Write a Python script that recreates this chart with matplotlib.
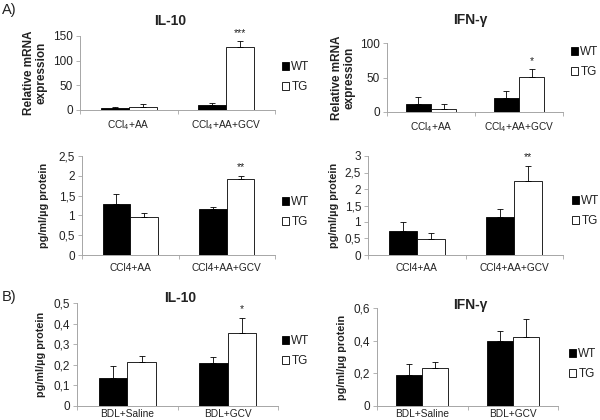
import matplotlib
matplotlib.use("Agg")
import matplotlib.pyplot as plt
from matplotlib.patches import Patch

plt.rcParams['font.family'] = ['Liberation Sans', 'DejaVu Sans']
plt.rcParams['mathtext.fontset'] = 'custom'
plt.rcParams['mathtext.rm'] = 'Liberation Sans'
plt.rcParams['mathtext.it'] = 'Liberation Sans'

groups = ["WT", "TG"]

# A) mRNA
cat_a_mrna = ["CCl$_4$+AA", "CCl$_4$+AA+GCV"]
il10_mrna_wt = [4, 11]
il10_mrna_wt_err = [2, 3]
il10_mrna_tg = [6, 128]
il10_mrna_tg_err = [6, 12]
il10_mrna_sig = ["", "***"]

ifng_mrna_wt = [11, 21]
ifng_mrna_wt_err = [11, 10]
ifng_mrna_tg = [5, 51]
ifng_mrna_tg_err = [7, 12]
ifng_mrna_sig = ["", "*"]

# A) protein
cat_a_prot = ["CCl4+AA", "CCl4+AA+GCV"]
il10_prot_wt = [1.28, 1.15]
il10_prot_wt_err = [0.26, 0.06]
il10_prot_tg = [0.96, 1.93]
il10_prot_tg_err = [0.10, 0.06]
il10_prot_sig = ["", "**"]

ifng_prot_wt = [0.72, 1.15]
ifng_prot_wt_err = [0.28, 0.25]
ifng_prot_tg = [0.49, 2.23]
ifng_prot_tg_err = [0.17, 0.48]
ifng_prot_sig = ["", "**"]

# B) protein
cat_b = ["BDL+Saline", "BDL+GCV"]
il10_b_wt = [0.135, 0.21]
il10_b_wt_err = [0.06, 0.028]
il10_b_tg = [0.212, 0.355]
il10_b_tg_err = [0.03, 0.07]
il10_b_sig = ["", "*"]

ifng_b_wt = [0.19, 0.395]
ifng_b_wt_err = [0.065, 0.065]
ifng_b_tg = [0.23, 0.42]
ifng_b_tg_err = [0.04, 0.11]
ifng_b_sig = ["", ""]

W, H = 600, 420
fig = plt.figure(figsize=(W / 100, H / 100), dpi=100)

def rect(l, r, t, b):
    return [l / W, 1 - b / H, (r - l) / W, (b - t) / H]

def fx(x):
    return x / W

def fy(y):
    return 1 - y / H

GRAY = '#a6a6a6'
TXT = '#222222'

def fmt(v):
    return f"{v:g}".replace('.', ',')

def panel(box, cats, wt, wte, tg, tge, sig, ymax, ystep, title=None, title_xy=None,
          ylabel=None, ylabel_x=None, ylabel_size=7.8, leg=None, catsize=7.3, catpad=6):
    ax = fig.add_axes(rect(*box))
    n = len(cats)
    bw = 1 / 3.5
    centers = [i + 0.5 for i in range(n)]
    xw = [c - bw / 2 for c in centers]
    xt = [c + bw / 2 for c in centers]
    ax.bar(xw, wt, width=bw, color='black', edgecolor='black', linewidth=0.6)
    ax.bar(xt, tg, width=bw, color='white', edgecolor='black', linewidth=0.6)
    ax.errorbar(xw, wt, yerr=[[0] * n, wte], fmt='none', ecolor='black',
                elinewidth=0.6, capsize=2.2, capthick=0.6)
    ax.errorbar(xt, tg, yerr=[[0] * n, tge], fmt='none', ecolor='black',
                elinewidth=0.6, capsize=2.2, capthick=0.6)
    for i in range(n):
        if sig[i]:
            ax.text(xt[i], tg[i] + tge[i] + ymax * 0.04, sig[i], ha='center',
                    va='bottom', fontsize=7.5, color=TXT)
    ax.set_xlim(0, n)
    ax.set_ylim(0, ymax)
    ticks = []
    k = 0
    while k * ystep <= ymax + 1e-9:
        ticks.append(round(k * ystep, 6))
        k += 1
    ax.set_yticks(ticks)
    ax.set_yticklabels([fmt(t) for t in ticks], fontsize=8.5, color=TXT)
    ax.set_xticks(range(n + 1))
    ax.set_xticklabels([])
    ax.set_xticks(centers, minor=True)
    ax.set_xticklabels(cats, minor=True, fontsize=catsize, color=TXT)
    ax.tick_params(axis='x', which='minor', length=0, pad=catpad)
    ax.tick_params(axis='x', which='major', length=3, color=GRAY, width=0.6)
    ax.tick_params(axis='y', length=3, color=GRAY, width=0.6, pad=2)
    for s in ['top', 'right']:
        ax.spines[s].set_visible(False)
    for s in ['left', 'bottom']:
        ax.spines[s].set_color(GRAY)
        ax.spines[s].set_linewidth(0.7)
    if title:
        fig.text(fx(title_xy[0]), fy(title_xy[1]), title, ha='center', va='center',
                 fontsize=10, fontweight='bold', color=TXT)
    if ylabel:
        yc = (box[2] + box[3]) / 2
        fig.text(fx(ylabel_x), fy(yc), ylabel, rotation=90, ha='center', va='center',
                 fontsize=ylabel_size, fontweight='bold', color=TXT, linespacing=1.0)
    if leg:
        handles = [Patch(facecolor='black', edgecolor='black', linewidth=0.6),
                   Patch(facecolor='white', edgecolor='black', linewidth=0.6)]
        fig.legend(handles, groups, loc='upper left',
                   bbox_to_anchor=(fx(leg[0]), fy(leg[1])), frameon=False,
                   fontsize=8.5, handlelength=0.6, handleheight=0.6,
                   handletextpad=0.2, labelspacing=0.7, borderpad=0,
                   borderaxespad=0, labelcolor=TXT)
    return ax

panel((80, 275, 36, 110), cat_a_mrna, il10_mrna_wt, il10_mrna_wt_err, il10_mrna_tg,
      il10_mrna_tg_err, il10_mrna_sig, 150, 50, title="IL-10", title_xy=(170, 21),
      ylabel="Relative mRNA\nexpression", ylabel_x=35, ylabel_size=8.5, leg=(282, 61))
panel((387, 563, 43, 112), cat_a_mrna, ifng_mrna_wt, ifng_mrna_wt_err, ifng_mrna_tg,
      ifng_mrna_tg_err, ifng_mrna_sig, 100, 50, title="IFN-γ", title_xy=(470, 20),
      ylabel="Relative mRNA\nexpression", ylabel_x=343, ylabel_size=8.5, leg=(571, 46))
panel((82, 275, 156, 255), cat_a_prot, il10_prot_wt, il10_prot_wt_err, il10_prot_tg,
      il10_prot_tg_err, il10_prot_sig, 2.5, 0.5,
      ylabel="pg/ml/µg protein", ylabel_x=44, leg=(282, 196))
panel((368, 563, 156, 255), cat_a_prot, ifng_prot_wt, ifng_prot_wt_err, ifng_prot_tg,
      ifng_prot_tg_err, ifng_prot_sig, 3, 0.5,
      ylabel="pg/ml/µg protein", ylabel_x=334, leg=(572, 195))
panel((77, 278, 303, 406), cat_b, il10_b_wt, il10_b_wt_err, il10_b_tg,
      il10_b_tg_err, il10_b_sig, 0.5, 0.1, title="IL-10", title_xy=(180, 298),
      ylabel="pg/ml/µg protein", ylabel_x=41, leg=(282, 335), catpad=2.5)
panel((377, 558, 308, 406), cat_b, ifng_b_wt, ifng_b_wt_err, ifng_b_tg,
      ifng_b_tg_err, ifng_b_sig, 0.6, 0.2, title="IFN-γ", title_xy=(470, 305),
      ylabel="pg/ml/µg protein", ylabel_x=342, leg=(569, 348), catpad=2.5)

fig.text(fx(2), fy(10), "A)", fontsize=10.5, va='center', ha='left', color=TXT)
fig.text(fx(2), fy(297), "B)", fontsize=10.5, va='center', ha='left', color=TXT)

fig.savefig("out.png", dpi=100)
